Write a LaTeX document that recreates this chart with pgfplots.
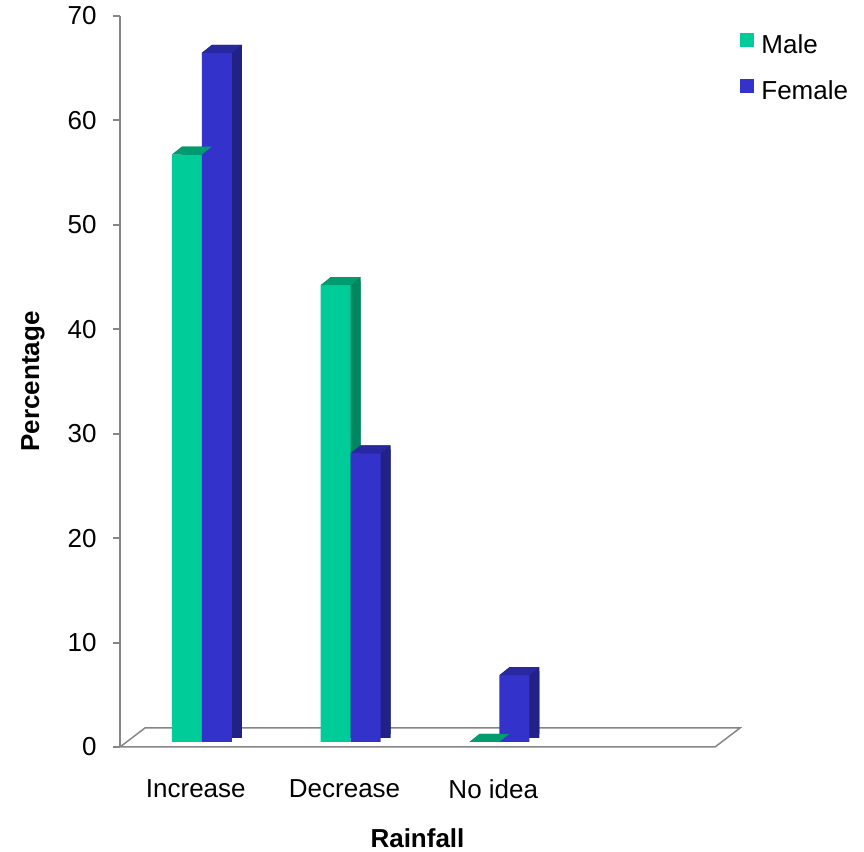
\documentclass[border=0pt]{standalone}
\usepackage{pgfplots}
\pgfplotsset{compat=1.18}
\usepackage{fontspec}
\setmainfont{Liberation Sans}
\definecolor{gF}{RGB}{0,204,153}
\definecolor{gT}{RGB}{0,156,112}
\definecolor{gS}{RGB}{0,134,96}
\definecolor{bF}{RGB}{51,51,204}
\definecolor{bT}{RGB}{40,40,160}
\definecolor{bS}{RGB}{34,34,134}
\definecolor{axgray}{RGB}{134,134,134}
\pgfdeclareplotmark{topface}{%
  \pgfpathmoveto{\pgfpoint{-7.5pt}{0pt}}%
  \pgfpathlineto{\pgfpoint{7.5pt}{0pt}}%
  \pgfpathlineto{\pgfpoint{12.5pt}{4pt}}%
  \pgfpathlineto{\pgfpoint{-2.5pt}{4pt}}%
  \pgfpathclose
  \pgfusepathqfill}
\begin{document}
\begin{tikzpicture}
\useasboundingbox (-60pt,-52.5pt) rectangle (372pt,373.5pt);
\begin{axis}[
  at={(0,0)}, anchor=south west,
  scale only axis, width=297.5pt, height=365.5pt,
  xmin=-0.55, xmax=3.45, ymin=0, ymax=70,
  ytick={0,10,...,70},
  xtick={0,1,2}, xticklabels={Increase,Decrease,No idea},
  ybar, bar width=15pt,
  axis y line*=left, axis x line*=bottom,
  x axis line style={draw=none},
  xtick style={draw=none},
  y axis line style={draw=axgray, line width=1pt, -},
  ytick style={draw=axgray, line width=1pt},
  major tick length=3.5pt, tick align=outside,
  font=\fontsize{13}{15.6}\selectfont,
  tick label style={font=\fontsize{13}{15.6}\selectfont},
  /pgf/number format/assume math mode=true,
  yticklabel style={inner sep=0pt, anchor=east, xshift=-8pt},
  xticklabel style={inner sep=0pt, anchor=north, yshift=-12.5pt, xshift=-3pt},
  xlabel={\textbf{Rainfall}}, ylabel={\textbf{Percentage}},
  xlabel style={at={([yshift=-45.5pt]axis description cs:0.5,0)}, anchor=center},
  ylabel style={at={([xshift=-43.5pt]axis description cs:0,0.5)}, anchor=center},
  legend image code/.code={\fill[#1] (0pt,-3.5pt) rectangle (7pt,3.5pt);},
  legend style={draw=none, fill=none, at={(axis description cs:1.042,1)}, anchor=north west, yshift=-7pt, inner sep=0pt, row sep=8pt, font=\fontsize{13}{15.6}\selectfont, nodes={inner xsep=3.5pt}},
  legend cell align=left,
  clip=false,
]
\draw[axgray, line width=0.75pt] (axis cs:-0.55,0) -- (axis cs:3.45,0) -- ([shift={(12.5pt,9.5pt)}]axis cs:3.45,0) -- ([shift={(12.5pt,9.5pt)}]axis cs:-0.55,0) -- cycle;
% Male
\addplot[forget plot, fill=gS, draw=none, bar shift=-7.5pt, xshift=5pt, yshift=6.5pt] coordinates {(0,56.25) (1,43.75) (2,0)};
\addplot[forget plot, fill=gS, draw=none, bar shift=-7.5pt, xshift=5pt, yshift=4.5pt] coordinates {(0,56.25) (1,43.75) (2,0)};
\addplot[fill=gF, draw=none, bar shift=-7.5pt, yshift=2.5pt] coordinates {(0,56.25) (1,43.75) (2,0)};
\addlegendentry{Male}
\addplot[forget plot, only marks, mark=topface, mark options={fill=gT, draw=none}, xshift=-7.5pt, yshift=2.5pt] coordinates {(0,56.25) (1,43.75) (2,0)};
% Female
\addplot[forget plot, fill=bS, draw=none, bar shift=7.5pt, xshift=5pt, yshift=6.5pt] coordinates {(0,66.0) (1,27.65) (2,6.4)};
\addplot[forget plot, fill=bS, draw=none, bar shift=7.5pt, xshift=5pt, yshift=4.5pt] coordinates {(0,66.0) (1,27.65) (2,6.4)};
\addplot[fill=bF, draw=none, bar shift=7.5pt, yshift=2.5pt] coordinates {(0,66.0) (1,27.65) (2,6.4)};
\addlegendentry{Female}
\addplot[forget plot, only marks, mark=topface, mark options={fill=bT, draw=none}, xshift=7.5pt, yshift=2.5pt] coordinates {(0,66.0) (1,27.65) (2,6.4)};
\end{axis}
\end{tikzpicture}
\end{document}
